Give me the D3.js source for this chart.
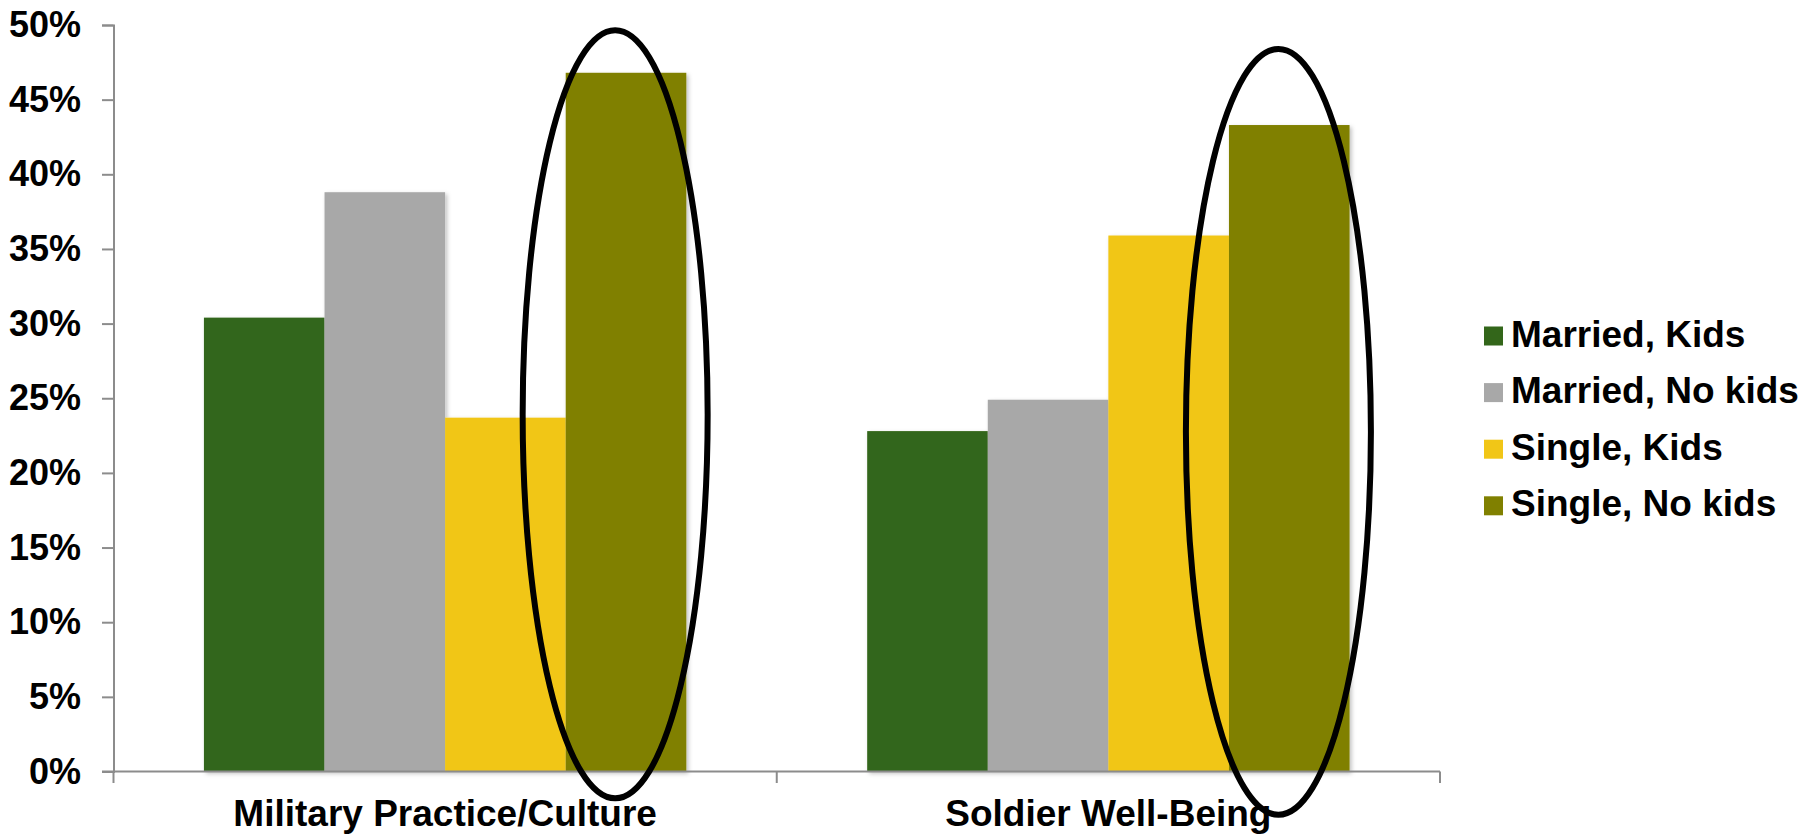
<!DOCTYPE html>
<html>
<head>
<meta charset="utf-8">
<script src="https://cdn.jsdelivr.net/npm/d3@7"></script>
<style>
  html, body { margin: 0; padding: 0; background: #ffffff; }
  svg { display: block; }
  text { font-family: "Liberation Sans", Arial, sans-serif; font-weight: bold; fill: #000; }
</style>
</head>
<body>
<svg id="chart" width="1806" height="836"></svg>
<script>
// Survey categories and the four family-status groups
const categories = ["Military Practice/Culture", "Soldier Well-Being"];
const seriesNames = ["Married, Kids", "Married, No kids", "Single, Kids", "Single, No kids"];
const seriesColors = ["#33661a", "#a8a8a8", "#f1c617", "#808000"];

// Percent of respondents, one array per group (order follows categories)
const marriedKids   = [30.4, 22.8];
const marriedNoKids = [38.8, 24.9];
const singleKids    = [23.7, 35.9];
const singleNoKids  = [46.8, 43.3];

// Value axis ticks
const yTicks = [0, 5, 10, 15, 20, 25, 30, 35, 40, 45, 50];

// Highlight ovals around the "Single, No kids" bars: top and bottom in percent
const highlightCategory = ["Military Practice/Culture", "Soldier Well-Being"];
const highlightTop      = [49.65, 48.4];
const highlightBottom   = [-1.8, -2.9];

const values = [marriedKids, marriedNoKids, singleKids, singleNoKids];

const svg = d3.select("#chart");

const plot = { left: 113.5, right: 1440, top: 25, bottom: 771.5 };

const x0 = d3.scaleBand()
  .domain(categories)
  .range([plot.left, plot.right])
  .paddingInner(0)
  .paddingOuter(0);

const x1 = d3.scaleBand()
  .domain(seriesNames)
  .range([0, x0.bandwidth()])
  .paddingInner(0)
  .paddingOuter(0.75);

const y = d3.scaleLinear()
  .domain([0, 50])
  .range([plot.bottom, plot.top]);

// Soft shadow under the bars
const defs = svg.append("defs");
const shadow = defs.append("filter").attr("id", "barShadow")
  .attr("x", "-10%").attr("y", "-10%").attr("width", "130%").attr("height", "130%");
shadow.append("feDropShadow")
  .attr("dx", 2).attr("dy", 2).attr("stdDeviation", 2)
  .attr("flood-color", "#000").attr("flood-opacity", 0.25);

// Bars
const rows = [];
categories.forEach((c, ci) => {
  seriesNames.forEach((s, si) => {
    rows.push({ category: c, series: s, value: values[si][ci], color: seriesColors[si] });
  });
});

svg.append("g").attr("filter", "url(#barShadow)")
  .selectAll("rect")
  .data(rows)
  .join("rect")
  .attr("x", d => x0(d.category) + x1(d.series))
  .attr("y", d => y(d.value))
  .attr("width", x1.bandwidth())
  .attr("height", d => y(0) - y(d.value))
  .attr("fill", d => d.color);

// Y axis
const yAxis = d3.axisLeft(y)
  .tickValues(yTicks)
  .tickFormat(d => d + "%")
  .tickSize(11.5)
  .tickPadding(21);

const gy = svg.append("g")
  .attr("transform", `translate(${plot.left},0)`)
  .call(yAxis);
gy.select(".domain").attr("stroke", "#8c8c8c").attr("stroke-width", 2);
gy.selectAll(".tick line").attr("stroke", "#8c8c8c").attr("stroke-width", 2);
gy.selectAll(".tick text")
  .attr("font-size", 36)
  .attr("font-family", "'Liberation Sans', Arial, sans-serif")
  .attr("font-weight", "bold")
  .attr("fill", "#000");

// X axis: baseline, boundary ticks, centred category labels
const gx = svg.append("g");
gx.append("line")
  .attr("x1", plot.left - 11.5).attr("x2", plot.right)
  .attr("y1", y(0)).attr("y2", y(0))
  .attr("stroke", "#8c8c8c").attr("stroke-width", 2);

const boundaries = categories.map(c => x0(c)).concat([x0(categories[categories.length - 1]) + x0.bandwidth()]);
gx.selectAll("line.bt")
  .data(boundaries)
  .join("line")
  .attr("class", "bt")
  .attr("x1", d => d).attr("x2", d => d)
  .attr("y1", y(0)).attr("y2", y(0) + 11.5)
  .attr("stroke", "#8c8c8c").attr("stroke-width", 2);

gx.selectAll("text")
  .data(categories)
  .join("text")
  .attr("x", d => x0(d) + x0.bandwidth() / 2)
  .attr("y", 826)
  .attr("text-anchor", "middle")
  .attr("font-size", 37)
  .text(d => d);

// Highlight ovals
const ovals = highlightCategory.map((c, i) => ({
  cx: x0(c) + x1("Single, No kids") + x1.bandwidth() * 0.41,
  top: y(highlightTop[i]),
  bottom: y(highlightBottom[i])
}));

svg.append("g")
  .selectAll("ellipse")
  .data(ovals)
  .join("ellipse")
  .attr("cx", d => d.cx)
  .attr("cy", d => (d.top + d.bottom) / 2)
  .attr("rx", 92.5)
  .attr("ry", d => (d.bottom - d.top) / 2)
  .attr("fill", "none")
  .attr("stroke", "#000")
  .attr("stroke-width", 6);

// Legend
const legend = svg.append("g").attr("transform", "translate(1484,336)");
const item = legend.selectAll("g")
  .data(seriesNames)
  .join("g")
  .attr("transform", (d, i) => `translate(0,${i * 56.6})`);
item.append("rect")
  .attr("x", 0).attr("y", -9.5)
  .attr("width", 19).attr("height", 19)
  .attr("fill", (d, i) => seriesColors[i]);
item.append("text")
  .attr("x", 27)
  .attr("y", 10.5)
  .attr("font-size", 37)
  .text(d => d);
</script>
</body>
</html>
